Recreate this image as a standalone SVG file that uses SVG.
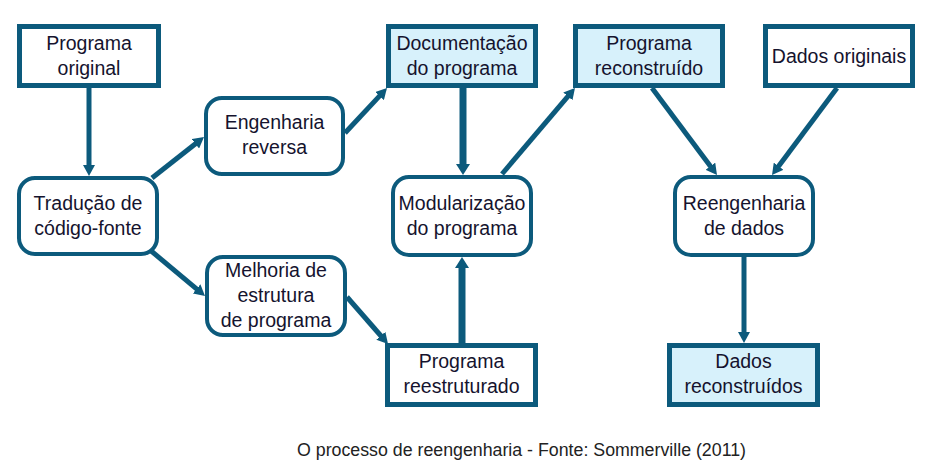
<svg xmlns="http://www.w3.org/2000/svg" width="932" height="473" viewBox="0 0 932 473">
<style>
.box{fill:#ffffff;stroke:#0c5a7c;stroke-width:5}
.box.hl{fill:#d7f1fb}
.rnd{fill:#ffffff;stroke:#0c5a7c;stroke-width:4}
.lbl{font-family:"Liberation Sans",Arial,sans-serif;font-size:19.5px;fill:#15132e;text-anchor:middle}
.con{fill:none;stroke:#0c5a7c;stroke-width:5}
.con.thick{stroke-width:7}
.cap{font-family:"Liberation Sans",Arial,sans-serif;font-size:17.5px;fill:#222222}
</style>
<defs>
<marker id="ah" markerUnits="userSpaceOnUse" markerWidth="12" markerHeight="12" refX="5" refY="6" orient="auto">
<path d="M0,0 L11,6 L0,12 z" fill="#0c5a7c"/>
</marker>
<marker id="ahT" markerUnits="userSpaceOnUse" markerWidth="12" markerHeight="14" refX="5" refY="7" orient="auto">
<path d="M0,0 L11,7 L0,14 z" fill="#0c5a7c"/>
</marker>
</defs>
<rect width="932" height="473" fill="#ffffff"/>
<g id="connectors">
<line class="con" x1="89" y1="88" x2="89" y2="170" marker-end="url(#ah)"/>
<line class="con" x1="152" y1="178" x2="199.3" y2="140.7" marker-end="url(#ah)"/>
<line class="con" x1="345" y1="133" x2="382.9" y2="92.4" marker-end="url(#ah)"/>
<line class="con" x1="150" y1="250" x2="200.4" y2="292.1" marker-end="url(#ah)"/>
<line class="con" x1="347" y1="297" x2="384.1" y2="339.5" marker-end="url(#ah)"/>
<line class="con thick" x1="463" y1="88" x2="463" y2="169" marker-end="url(#ahT)"/>
<line class="con thick" x1="462" y1="343" x2="462" y2="263" marker-end="url(#ahT)"/>
<line class="con" x1="502" y1="174" x2="571.1" y2="92.6" marker-end="url(#ah)"/>
<line class="con" x1="652" y1="88" x2="713.4" y2="170.2" marker-end="url(#ah)"/>
<line class="con" x1="837" y1="88" x2="775.6" y2="170.2" marker-end="url(#ah)"/>
<line class="con" x1="744" y1="257" x2="744" y2="337" marker-end="url(#ah)"/>
</g>
<g id="programa-original">
<rect class="box" x="19.5" y="26.5" width="139" height="59"/>
<text class="lbl" x="89" y="50">Programa</text>
<text class="lbl" x="89" y="75">original</text>
</g>
<g id="documentacao">
<rect class="box hl" x="388.5" y="26.5" width="147" height="59"/>
<text class="lbl" x="462" y="50">Documentação</text>
<text class="lbl" x="462" y="75">do programa</text>
</g>
<g id="programa-reconstruido">
<rect class="box hl" x="575.5" y="26.5" width="147" height="59"/>
<text class="lbl" x="649" y="50">Programa</text>
<text class="lbl" x="649" y="75">reconstruído</text>
</g>
<g id="dados-originais">
<rect class="box" x="765.5" y="26.5" width="147" height="59"/>
<text class="lbl" x="839" y="63">Dados originais</text>
</g>
<g id="engenharia-reversa">
<rect class="rnd" x="206" y="98" width="137" height="76" rx="16"/>
<text class="lbl" x="274.5" y="129">Engenharia</text>
<text class="lbl" x="274.5" y="154">reversa</text>
</g>
<g id="traducao">
<rect class="rnd" x="19" y="178" width="138" height="76" rx="16"/>
<text class="lbl" x="88" y="210">Tradução de</text>
<text class="lbl" x="88" y="235">código-fonte</text>
</g>
<g id="modularizacao">
<rect class="rnd" x="393" y="177" width="138" height="78" rx="16"/>
<text class="lbl" x="462" y="210">Modularização</text>
<text class="lbl" x="462" y="235">do programa</text>
</g>
<g id="reengenharia-dados">
<rect class="rnd" x="675" y="177" width="138" height="78" rx="16"/>
<text class="lbl" x="744" y="210">Reengenharia</text>
<text class="lbl" x="744" y="235">de dados</text>
</g>
<g id="melhoria">
<rect class="rnd" x="207" y="257" width="138" height="78" rx="16"/>
<text class="lbl" x="276" y="277">Melhoria de</text>
<text class="lbl" x="276" y="302">estrutura</text>
<text class="lbl" x="276" y="327">de programa</text>
</g>
<g id="programa-reestruturado">
<rect class="box" x="387.5" y="345.5" width="148" height="59"/>
<text class="lbl" x="461.5" y="368">Programa</text>
<text class="lbl" x="461.5" y="393">reestruturado</text>
</g>
<g id="dados-reconstruidos">
<rect class="box hl" x="669.5" y="345.5" width="148" height="59"/>
<text class="lbl" x="743.5" y="368">Dados</text>
<text class="lbl" x="743.5" y="393">reconstruídos</text>
</g>
<text class="cap" x="297" y="456" textLength="449" lengthAdjust="spacingAndGlyphs">O processo de reengenharia - Fonte: Sommerville (2011)</text>
</svg>
